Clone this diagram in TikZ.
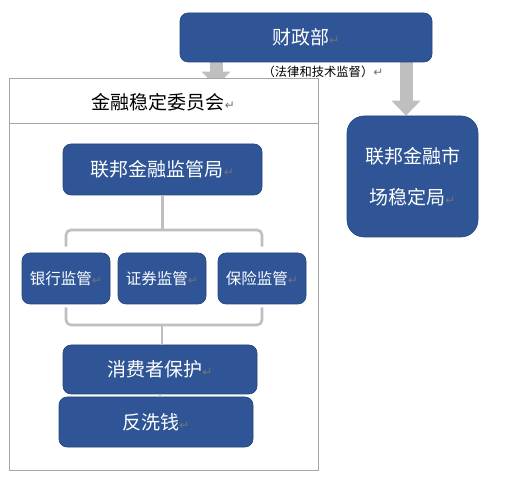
\documentclass[tikz,border=0pt]{standalone}
\usepackage{fontspec}
\setmainfont{Noto Sans CJK SC}
\newfontfamily\markfont{DejaVu Sans}
\usetikzlibrary{arrows.meta,positioning,backgrounds}
\definecolor{boxblue}{RGB}{47,85,151}
\definecolor{boxedge}{RGB}{38,68,122}
\definecolor{linkgray}{RGB}{191,191,191}
\definecolor{framegray}{RGB}{166,166,166}
\newcommand{\pmark}{{\markfont\fontsize{12}{12}\selectfont\color{black!55}↵}}

\begin{document}
\begin{tikzpicture}[x=1pt, y=-1pt,
    box/.style={draw=boxedge, fill=boxblue, rounded corners=8pt, line width=0.6pt, text=white, font=\fontsize{19}{21}\selectfont, inner sep=0pt},
    small/.style={box, font=\fontsize{15.5}{17}\selectfont, minimum width=88pt, minimum height=51pt},
    bigarr/.style={-{Triangle[width=28pt,length=15pt]}, line width=13pt, linkgray},
    brace/.style={linkgray, line width=2.6pt, rounded corners=5pt},
]
\useasboundingbox (0,0) rectangle (517,478);

% Top level
\node[box, minimum width=252pt, minimum height=49pt] (mof) at (306,37.5) {财政部\pmark};
\node[font=\fontsize{12.3}{14}\selectfont] (note) at (323,72) {（法律和技术监督）\pmark};
\node[box, rounded corners=17pt, minimum width=131pt, minimum height=121pt, align=center, font=\fontsize{19}{41}\selectfont] (fmsb) at (412.5,176.5) {联邦金融市\\场稳定局\pmark};

% Committee frame
\node[draw=framegray, fill=white, line width=0.8pt, minimum width=309pt, minimum height=392pt, inner sep=0pt] (fsc) at (163.5,274) {};
\node[font=\fontsize{19}{21}\selectfont] (fsctitle) at (163.5,102) {金融稳定委员会\pmark};
\coordinate (sep) at (0,123);
\draw[framegray, line width=0.8pt] (fsc.west |- sep) -- (fsc.east |- sep);

% Agencies
\node[box, minimum width=199pt, minimum height=51pt] (fba) at (162.5,169.5) {联邦金融监管局\pmark};
\node[small] (bank) at (66,278.5) {银行监管\pmark};
\node[small] (sec) at (162,278.5) {证券监管\pmark};
\node[small] (ins) at (262,278.5) {保险监管\pmark};
\node[box, minimum width=194pt, minimum height=49pt] (cp) at (160,369.5) {消费者保护\pmark};
\node[box, minimum width=194pt, minimum height=50pt] (aml) at (156,422) {反洗钱\pmark};

% Braces
\coordinate (tb) at (162,230);
\coordinate (bb) at (162,325);
\draw[brace] (fba.south) -- (fba.south |- tb);
\draw[brace] ([yshift=6pt]bank.north) |- (tb) -| ([yshift=6pt]ins.north);
\draw[brace] ([yshift=-3pt]bank.south) |- (bb) -| ([yshift=-3pt]ins.south);
\draw[brace] (bb) -- (bb |- cp.north);
\draw[brace] (cp.south) -- (cp.south |- aml.north);

% Arrows
\coordinate (la) at (216,0);
\coordinate (ra) at (406,0);
\begin{scope}[on background layer]
\draw[bigarr, shorten >=-9pt] (la |- mof.south) -- (la |- fsc.north);
\draw[bigarr] (ra |- mof.south) -- (ra |- fmsb.north);
\end{scope}
\end{tikzpicture}
\end{document}
